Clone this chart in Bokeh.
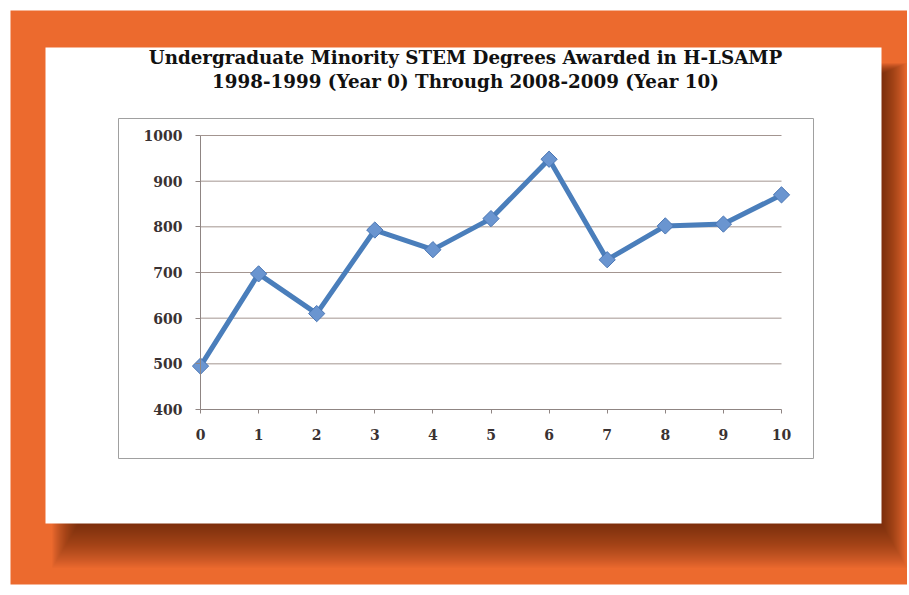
import math
from bokeh.plotting import figure
from bokeh.models import Range1d, FixedTicker, Label
from bokeh.embed import file_html
from bokeh.resources import INLINE

# ---- data ----
years = [0, 1, 2, 3, 4, 5, 6, 7, 8, 9, 10]
degrees = [495, 697, 610, 793, 750, 818, 948, 728, 802, 806, 870]
y_ticks = [400, 500, 600, 700, 800, 900, 1000]
title_lines = [
    "Undergraduate Minority STEM Degrees Awarded in H-LSAMP",
    "1998-1999 (Year 0) Through 2008-2009 (Year 10)",
]

# ---- geometry (page pixels; the figure sits at the page origin) ----
W, H = 907, 593
X0PX, X10PX = 200, 781          # pixel columns of first / last year
YTOPPX, YBOTPX = 135, 409       # pixel rows of top / bottom tick
xu = (X10PX - X0PX) / (years[-1] - years[0])
yu = (YBOTPX - YTOPPX) / (y_ticks[-1] - y_ticks[0])

def dx(px):
    return years[0] + (px - X0PX) / xu

def dy(py):
    return y_ticks[-1] - (py - YTOPPX) / yu

ORANGE = "#EC6A2E"
BLUE = "#4A7EBB"
GRID = "#A39590"
AXIS = "#8F8583"
TXT = "#3A3232"
FONT = "DejaVu Serif"

p = figure(width=W, height=H, x_range=Range1d(dx(0), dx(W)), y_range=Range1d(dy(H), dy(0)),
           min_border=0, output_backend="svg", toolbar_location=None,
           border_fill_color="white", background_fill_color="white", outline_line_color=None)
p.xgrid.visible = False
p.ygrid.visible = False

# orange backdrop, soft card shadow, card and inner chart-area box (decoration, pixel geometry)
p.quad(left=[dx(10)], right=[dx(W + 2)], top=[dy(10)], bottom=[dy(584)], fill_color=ORANGE, line_color=None)
CL, CR, CT, CB = 45, 881, 47, 523
N = 22
for k in range(N):
    p.quad(left=[dx(CL + 32 - 1.2 * k)], right=[dx(CR + 1 + 1.15 * k)], top=[dy(CT + 26 - 0.5 * k)],
           bottom=[dy(CB + 2 + 2.0 * k)], fill_color="#4A0C06", fill_alpha=0.042, line_color=None)
p.quad(left=[dx(CL)], right=[dx(CR)], top=[dy(CT)], bottom=[dy(CB)], fill_color="white", line_color=None)
p.quad(left=[dx(118)], right=[dx(813)], top=[dy(118)], bottom=[dy(458)], fill_color=None,
       line_color="#A0A0A0", line_width=1)

# titles
for t, cy in zip(title_lines, [57, 81]):
    p.add_layout(Label(x=465, y=H - cy, x_units="screen", y_units="screen", text=t,
                       text_align="center", text_baseline="middle", text_font=FONT,
                       text_font_style="bold", text_font_size="18.3px", text_color="#111111"))

# horizontal grid lines
p.segment(x0=[years[0]] * (len(y_ticks) - 1), x1=[years[-1]] * (len(y_ticks) - 1),
          y0=y_ticks[1:], y1=y_ticks[1:], line_color=GRID, line_width=1)

# data
p.line(years, degrees, line_color=BLUE, line_width=5, line_join="round")
p.scatter(years, degrees, marker="square", angle=math.pi / 4, size=11.5,
          fill_color="#6A95D0", line_color="#4A76B4", line_width=1)

# axes positioned at the chart origin
p.yaxis.fixed_location = years[0]
p.yaxis.bounds = (y_ticks[0], y_ticks[-1])
p.xaxis.fixed_location = y_ticks[0]
p.xaxis.bounds = (years[0], years[-1])
p.yaxis.ticker = FixedTicker(ticks=y_ticks)
p.xaxis.ticker = FixedTicker(ticks=years)
for ax in (p.xaxis, p.yaxis):
    ax.axis_line_color = AXIS
    ax.major_tick_line_color = AXIS
    ax.minor_tick_line_color = None
    ax.major_tick_in = 0
    ax.major_label_text_font = FONT
    ax.major_label_text_font_style = "bold"
    ax.major_label_text_font_size = "14px"
    ax.major_label_text_color = TXT
p.yaxis.major_tick_out = 5
p.yaxis.major_label_standoff = 13
p.xaxis.major_tick_out = 4
p.xaxis.major_label_standoff = 15

open("out.html", "w").write(file_html(p, INLINE))
